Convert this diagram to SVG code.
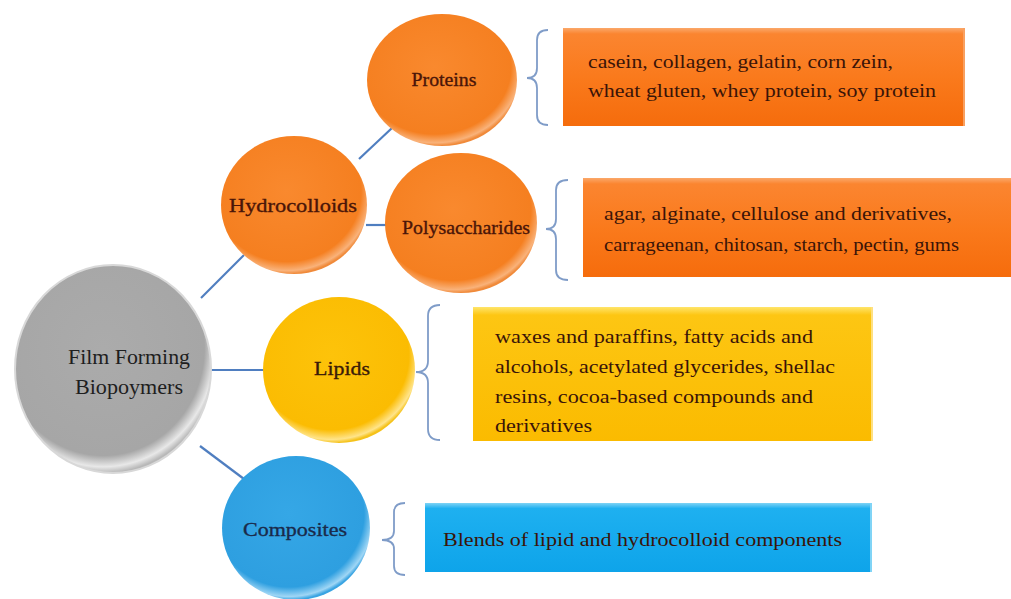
<svg xmlns="http://www.w3.org/2000/svg" width="1011" height="599" viewBox="0 0 1011 599">
<style>
.conn{stroke:#4f7ec0;stroke-width:2.2;fill:none}
.brace{stroke:#7f9cc8;stroke-width:1.8;fill:none}
.t{font-family:"Liberation Serif","DejaVu Serif",serif;}
.lbl{font-size:19.5px;text-anchor:middle;stroke-width:0.35}
.box{font-size:19px;fill:#3a1408}
</style>
<defs>
<radialGradient id="gOr" cx="0.45" cy="0.4" r="0.6">
<stop offset="0" stop-color="#f9892e"/><stop offset="0.85" stop-color="#f57f20"/><stop offset="0.96" stop-color="#f9b27a"/><stop offset="1" stop-color="#f08a3a"/>
</radialGradient>
<radialGradient id="gYe" cx="0.45" cy="0.4" r="0.6">
<stop offset="0" stop-color="#fdc30a"/><stop offset="0.85" stop-color="#fbbc02"/><stop offset="0.96" stop-color="#ffe48a"/><stop offset="1" stop-color="#f5c21a"/>
</radialGradient>
<radialGradient id="gBl" cx="0.45" cy="0.4" r="0.6">
<stop offset="0" stop-color="#35a7e6"/><stop offset="0.85" stop-color="#2e9fe0"/><stop offset="0.96" stop-color="#9fd6f5"/><stop offset="1" stop-color="#3aa4e2"/>
</radialGradient>
<radialGradient id="gGr" cx="0.45" cy="0.4" r="0.6">
<stop offset="0" stop-color="#ababab"/><stop offset="0.86" stop-color="#a6a6a6"/><stop offset="0.95" stop-color="#e8e8e8"/><stop offset="1" stop-color="#b8b8b8"/>
</radialGradient>
<linearGradient id="bOr" x1="0" y1="0" x2="0" y2="1">
<stop offset="0" stop-color="#fba86a"/><stop offset="0.06" stop-color="#fb8530"/><stop offset="0.5" stop-color="#fa7a1c"/><stop offset="1" stop-color="#f56c0c"/>
</linearGradient>
<linearGradient id="bYe" x1="0" y1="0" x2="0" y2="1">
<stop offset="0" stop-color="#ffe56a"/><stop offset="0.06" stop-color="#fdc613"/><stop offset="1" stop-color="#fbbb00"/>
</linearGradient>
<linearGradient id="bBl" x1="0" y1="0" x2="0" y2="1">
<stop offset="0" stop-color="#7fd3f5"/><stop offset="0.08" stop-color="#1eb0f0"/><stop offset="1" stop-color="#0ea4ea"/>
</linearGradient>
</defs>
<rect width="1011" height="599" fill="#ffffff"/>
<g id="connectors">
<line class="conn" x1="201" y1="298" x2="244" y2="255"/>
<line class="conn" x1="210" y1="370" x2="264" y2="370"/>
<line class="conn" x1="200" y1="446" x2="244" y2="479"/>
<line class="conn" x1="359" y1="159" x2="392" y2="128"/>
<line class="conn" x1="366" y1="225" x2="388" y2="225"/>
<path class="brace" d="M548,30 Q537,30 537,40 L537,68 Q537,78 527,78 Q537,78 537,88 L537,115 Q537,125 548,125"/>
<path class="brace" d="M568,180 Q556,180 556,190 L556,219 Q556,229 546,229 Q556,229 556,239 L556,270 Q556,280 568,280"/>
<path class="brace" d="M440,305 Q428,305 428,316 L428,361 Q428,372 416,372 Q428,372 428,383 L428,429 Q428,440 440,440"/>
<path class="brace" d="M405,503 Q394,503 394,512 L394,531 Q394,540 382,540 Q394,540 394,549 L394,566 Q394,575 405,575"/>
</g>
<g id="film">
<ellipse cx="113" cy="369" rx="98" ry="104" fill="url(#gGr)" stroke="#d8d8d8" stroke-width="2"/>
<text class="t" x="129" y="364" font-size="20.5" text-anchor="middle" fill="#1e1e1e" textLength="122" lengthAdjust="spacingAndGlyphs">Film Forming</text>
<text class="t" x="129" y="394" font-size="20.5" text-anchor="middle" fill="#1e1e1e" textLength="108" lengthAdjust="spacingAndGlyphs">Biopoymers</text>
</g>
<g id="hydrocolloids">
<ellipse cx="294" cy="205" rx="73" ry="69" fill="url(#gOr)"/>
<text class="t lbl" x="293" y="212" fill="#4a1508" stroke="#4a1508" textLength="128" lengthAdjust="spacingAndGlyphs">Hydrocolloids</text>
</g>
<g id="proteins">
<ellipse cx="442" cy="80" rx="75" ry="66" fill="url(#gOr)"/>
<text class="t lbl" x="444" y="86" fill="#4a1508" stroke="#4a1508" textLength="65" lengthAdjust="spacingAndGlyphs">Proteins</text>
</g>
<g id="polysaccharides">
<ellipse cx="461" cy="223" rx="76" ry="70" fill="url(#gOr)"/>
<text class="t lbl" x="466" y="234" fill="#4a1508" stroke="#4a1508" textLength="128" lengthAdjust="spacingAndGlyphs">Polysaccharides</text>
</g>
<g id="lipids">
<ellipse cx="339" cy="370" rx="76" ry="73" fill="url(#gYe)"/>
<text class="t lbl" x="342" y="375" fill="#3a1a08" stroke="#3a1a08" stroke-width="0.2" textLength="56" lengthAdjust="spacingAndGlyphs">Lipids</text>
</g>
<g id="composites">
<ellipse cx="296" cy="528" rx="74" ry="72" fill="url(#gBl)"/>
<text class="t lbl" x="295" y="536" fill="#1a2a4a" stroke="#1a2a4a" textLength="104" lengthAdjust="spacingAndGlyphs">Composites</text>
</g>
<g id="proteins-box">
<rect x="563" y="28" width="402" height="98" fill="url(#bOr)"/>
<rect x="963" y="28" width="2" height="98" fill="#f9a060"/>
<text class="t box" x="588" y="68" textLength="305" lengthAdjust="spacingAndGlyphs">casein, collagen, gelatin, corn zein,</text>
<text class="t box" x="588" y="97" textLength="348" lengthAdjust="spacingAndGlyphs">wheat gluten, whey protein, soy protein</text>
</g>
<g id="polysaccharides-box">
<rect x="583" y="178" width="428" height="99" fill="url(#bOr)"/>
<text class="t box" x="604" y="220" textLength="348" lengthAdjust="spacingAndGlyphs">agar, alginate, cellulose and derivatives,</text>
<text class="t box" x="604" y="251" textLength="355" lengthAdjust="spacingAndGlyphs">carrageenan, chitosan, starch, pectin, gums</text>
</g>
<g id="lipids-box">
<rect x="473" y="307" width="400" height="134" fill="url(#bYe)"/>
<rect x="871" y="307" width="2" height="134" fill="#ffe080"/>
<text class="t box" x="495" y="343" textLength="318" lengthAdjust="spacingAndGlyphs">waxes and paraffins, fatty acids and</text>
<text class="t box" x="495" y="373" textLength="340" lengthAdjust="spacingAndGlyphs">alcohols, acetylated glycerides, shellac</text>
<text class="t box" x="495" y="403" textLength="318" lengthAdjust="spacingAndGlyphs">resins, cocoa-based compounds and</text>
<text class="t box" x="495" y="432" textLength="97" lengthAdjust="spacingAndGlyphs">derivatives</text>
</g>
<g id="composites-box">
<rect x="425" y="503" width="447" height="69" fill="url(#bBl)"/>
<rect x="870" y="503" width="2" height="69" fill="#80d4f6"/>
<text class="t box" x="443" y="546" fill="#0f2a4a" textLength="399" lengthAdjust="spacingAndGlyphs">Blends of lipid and hydrocolloid components</text>
</g>
</svg>
